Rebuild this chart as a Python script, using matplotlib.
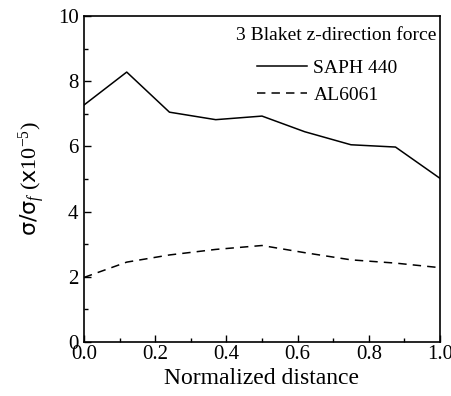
import matplotlib
matplotlib.use("Agg")
import matplotlib.pyplot as plt
from matplotlib.ticker import MultipleLocator, FormatStrFormatter

# Datos
distance = [0.0, 0.12, 0.24, 0.37, 0.5, 0.62, 0.75, 0.875, 1.0]
saph440 = [7.27, 8.28, 7.05, 6.82, 6.93, 6.45, 6.05, 5.98, 5.02]
al6061 = [1.98, 2.45, 2.67, 2.84, 2.96, 2.74, 2.52, 2.42, 2.28]

plt.rcParams['font.family'] = ['Liberation Serif', 'DejaVu Sans']
plt.rcParams['mathtext.fontset'] = 'custom'
plt.rcParams['mathtext.rm'] = 'Liberation Serif'
plt.rcParams['mathtext.it'] = 'Liberation Serif:italic'
plt.rcParams['mathtext.sf'] = 'DejaVu Sans'

fig = plt.figure(figsize=(4.51, 3.96), dpi=100)
ax = fig.add_axes([84 / 451, 54 / 396, 356 / 451, 326 / 396])

ax.plot(distance, saph440, color='black', lw=1.1, label='SAPH 440')
ax.plot(distance, al6061, color='black', lw=1.1, ls=(0, (5.5, 4)), label='AL6061')

ax.set_xlim(0, 1.0)
ax.set_ylim(0, 10)
ax.xaxis.set_major_locator(MultipleLocator(0.2))
ax.xaxis.set_minor_locator(MultipleLocator(0.1))
ax.xaxis.set_major_formatter(FormatStrFormatter('%.1f'))
ax.yaxis.set_major_locator(MultipleLocator(2))
ax.yaxis.set_minor_locator(MultipleLocator(1))
ax.tick_params(which='both', direction='in', top=False, right=False, labelsize=15)
ax.tick_params(which='major', length=5, width=1)
ax.tick_params(which='minor', length=3, width=1)
ax.tick_params(axis='x', pad=2)
ax.tick_params(axis='y', pad=4)
for s in ax.spines.values():
    s.set_linewidth(1.2)

ax.set_xlabel('Normalized distance', fontsize=17, labelpad=3)
ax.set_ylabel(r'$\mathsf{\sigma/\sigma}_{f}\ (\mathsf{x}10^{-5})$', fontsize=16, labelpad=8)

ax.text(0.99, 0.965, '3 Blaket z-direction force', transform=ax.transAxes,
        ha='right', va='top', fontsize=14)
ax.legend(loc='upper right', bbox_to_anchor=(0.93, 0.92), frameon=False,
          fontsize=14, handlelength=2.6, handletextpad=0.3, labelspacing=0.45)

fig.savefig('out.png', dpi=100)
